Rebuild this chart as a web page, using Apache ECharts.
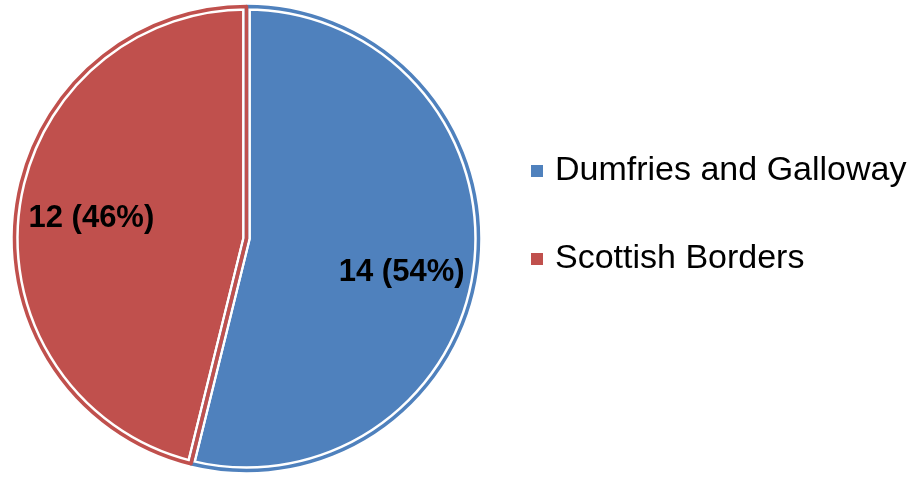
<!DOCTYPE html>
<html>
<head>
<meta charset="utf-8">
<script src="https://cdn.jsdelivr.net/npm/echarts@6/dist/echarts.min.js"></script>
<style>
html,body{margin:0;padding:0;background:#fff;}
#chart{width:917px;height:477px;}
</style>
</head>
<body>
<div id="chart"></div>
<script>
const categories = ["Dumfries and Galloway", "Scottish Borders"];
const values = [14, 12];
const colors = ["#4F81BD", "#C0504D"];

const chart = echarts.init(document.getElementById('chart'), null, {renderer: 'canvas'});
const FONT = '"Liberation Sans", Arial, sans-serif';
const center = [246.5, 238.5];
const radius = 232;

function makeData(styleFn) {
  return categories.map((c, i) => ({name: c, value: values[i], itemStyle: styleFn(i)}));
}
const base = {
  type: 'pie', center: center, radius: radius, startAngle: 90, clockwise: true,
  animation: false, silent: true, emphasis: {disabled: true}, labelLine: {show: false},
  avoidLabelOverlap: false
};
const labelShift = [[37, 20], [-37, -6]];

chart.setOption({
  backgroundColor: '#ffffff',
  legend: {
    orient: 'vertical', left: 526, top: 146,
    icon: 'rect', itemWidth: 12, itemHeight: 12, itemGap: 48,
    data: categories,
    textStyle: {fontFamily: FONT, fontSize: 34, color: '#000', lineHeight: 40, padding: [0, 0, 0, 7]},
    selectedMode: false
  },
  series: [
    Object.assign({}, base, {
      name: 'fill',
      data: makeData(i => ({color: colors[i], borderWidth: 0})),
      label: {show: false}
    }),
    Object.assign({}, base, {
      name: 'gap',
      data: makeData(i => ({color: 'rgba(0,0,0,0)', borderColor: '#ffffff', borderWidth: 8.5, borderJoin: 'round'})),
      label: {show: false}
    }),
    Object.assign({}, base, {
      name: 'outline',
      data: makeData(i => ({color: 'rgba(0,0,0,0)', borderColor: colors[i], borderWidth: 3.5, borderJoin: 'round'})),
      label: {
        show: true, position: 'inside',
        formatter: p => p.value + ' (' + Math.round(p.percent) + '%)',
        fontFamily: FONT, fontWeight: 'bold', fontSize: 31, color: '#000'
      },
      labelLayout: p => ({dx: labelShift[p.dataIndex][0], dy: labelShift[p.dataIndex][1]})
    })
  ]
});
</script>
</body>
</html>
